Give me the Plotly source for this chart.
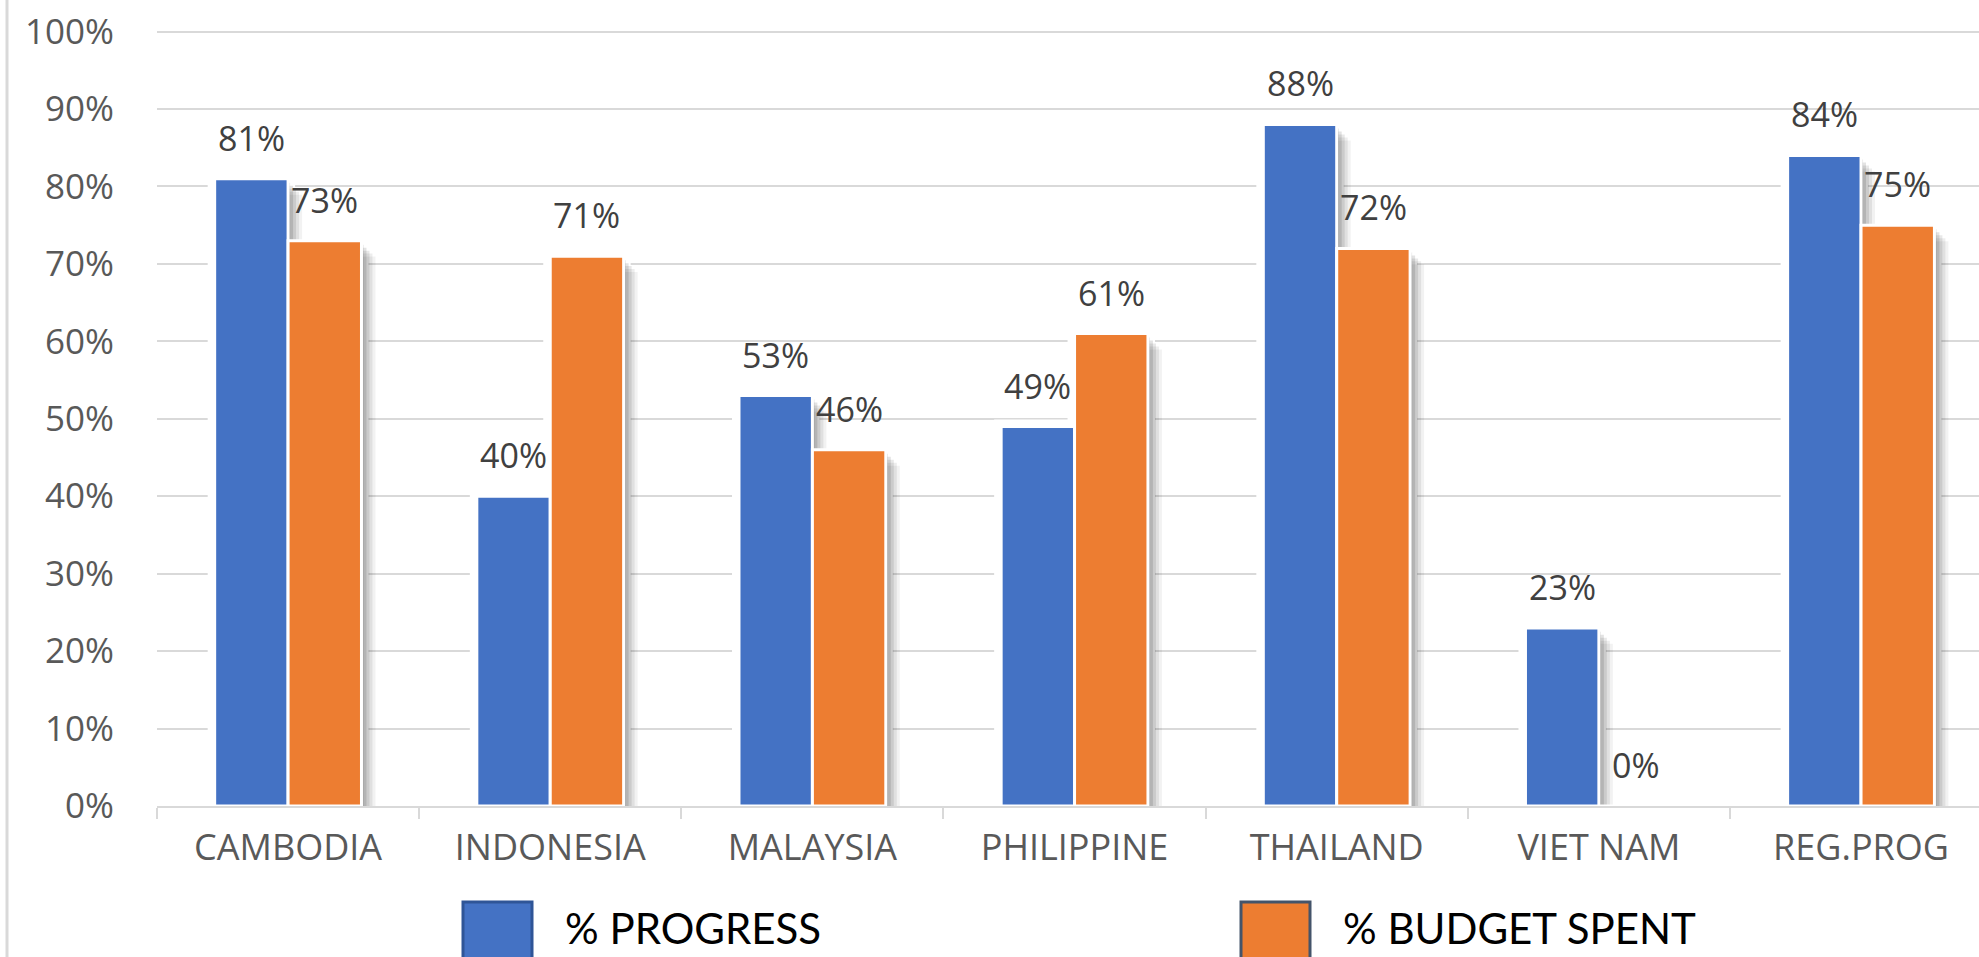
import plotly.graph_objects as go

categories = ["CAMBODIA", "INDONESIA", "MALAYSIA", "PHILIPPINE", "THAILAND", "VIET NAM", "REG.PROG"]
progress = [81, 40, 53, 49, 88, 23, 84]
budget = [73, 71, 46, 61, 72, 0, 75]
y_ticks = [0, 10, 20, 30, 40, 50, 60, 70, 80, 90, 100]
legend_names = ["% PROGRESS", "% BUDGET SPENT"]

BLUE = "#4472C4"
ORANGE = "#ED7D31"

W, H = 1979, 957
ML, MR, MT, MB = 157, 0, 30, 151
XR = [-0.5, 6.45]
PW = W - ML - MR
PH = H - MT - MB
PX = (XR[1] - XR[0]) / PW          # category units per pixel
PY = 1.0 / PH                     # y units per pixel

BW = 0.28                          # bar width in category units

fig = go.Figure()

def frac(vals):
    return [v / 100 for v in vals]

series = [(progress, BLUE, -BW), (budget, ORANGE, 0.0)]

# white halo behind bars (hides gridlines around bars)
for vals, col, off in series:
    fig.add_trace(go.Bar(
        x=categories, y=[v / 100 + 7 * PY if v > 0 else 0 for v in vals],
        offset=off - 7 * PX, width=BW + 14 * PX,
        marker=dict(color="white", line=dict(width=0)),
        hoverinfo="skip", showlegend=False))

# series with soft drop shadows
for vals, col, off in series:
    for shift, alpha in [(14, 0.05), (11, 0.07), (8, 0.09), (5, 0.11), (2, 0.13)]:
        fig.add_trace(go.Bar(
            x=categories, y=[max(v / 100 - (shift + 2) * PY, 0) if v > 0 else 0 for v in vals],
            offset=off + shift * PX, width=BW,
            marker=dict(color=f"rgba(0,0,0,{alpha})", line=dict(width=0)),
            hoverinfo="skip", showlegend=False))
    fig.add_trace(go.Bar(
        x=categories, y=frac(vals), offset=off, width=BW,
        marker=dict(color=col, line=dict(color="white", width=3)),
        showlegend=False))

# data labels
for vals, col, off in series:
    for i, v in enumerate(vals):
        fig.add_annotation(
            x=i + off + BW / 2, y=v / 100, xref="x", yref="y",
            text=f"{v}%", showarrow=False, yshift=41,
            font=dict(family="Open Sans", size=34, color="#404040"))

# manual legend
legend_x = [463, 1241]
legend_colors = [BLUE, ORANGE]
legend_borders = ["#2F5597", "#44546A"]
for name, lx, c, bc in zip(legend_names, legend_x, legend_colors, legend_borders):
    x0 = (lx - ML) / PW
    x1 = (lx + 69 - ML) / PW
    y0 = (H - MB - 902) / PH
    y1 = (H - MB - 985) / PH
    fig.add_shape(type="rect", xref="paper", yref="paper", x0=x0, x1=x1, y0=y1, y1=y0,
                  fillcolor=c, line=dict(color=bc, width=3), layer="above")
    fig.add_annotation(xref="paper", yref="paper", x=(lx + 100 - ML) / PW,
                       y=(H - MB - 928) / PH, xanchor="left", yanchor="middle",
                       text=name, showarrow=False,
                       font=dict(family="Lato", size=42, color="#000000"))

# left border line of the picture
fig.add_shape(type="line", xref="paper", yref="paper",
              x0=(7 - ML) / PW, x1=(7 - ML) / PW,
              y0=-MB / PH - 0.1, y1=1 + MT / PH + 0.1,
              line=dict(color="#D9D9D9", width=3))

fig.update_layout(
    width=W, height=H,
    margin=dict(l=ML, r=MR, t=MT, b=MB, pad=0),
    barmode="overlay",
    plot_bgcolor="white", paper_bgcolor="white",
    font=dict(family="Open Sans", color="#595959"),
    showlegend=False,
    xaxis=dict(
        type="category", range=XR, tickson="boundaries",
        showline=True, linecolor="#D9D9D9", linewidth=2,
        ticks="outside", ticklen=11, tickcolor="#D9D9D9", tickwidth=2,
        showgrid=False, ticklabelstandoff=9,
        tickfont=dict(family="Open Sans", size=36, color="#595959")),
    yaxis=dict(
        range=[0, 1.002], tickvals=[t / 100 for t in y_ticks], tickformat=".0%",
        showgrid=True, gridcolor="#D9D9D9", gridwidth=2,
        zeroline=False, showline=False, ticks="",
        ticklabelstandoff=42,
        tickfont=dict(family="Open Sans", size=35, color="#595959")),
)

fig.write_html("out.html", config={"displayModeBar": False},
               post_script="document.body.style.margin='0';document.body.style.overflow='hidden';")
